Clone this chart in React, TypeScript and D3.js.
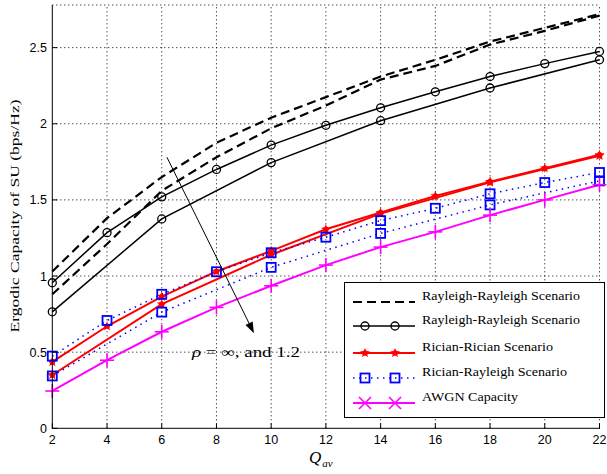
import React from "react";
import * as d3 from "d3";

// ---- data ----
const xAll = [2, 4, 6, 8, 10, 12, 14, 16, 18, 20, 22];
const xSparse = [2, 6, 10, 14, 18, 22];

const rayDashedA = [1.03, 1.38, 1.65, 1.875, 2.04, 2.175, 2.31, 2.42, 2.54, 2.63, 2.72];
const rayDashedB = [0.88, 1.21, 1.56, 1.78, 1.97, 2.12, 2.29, 2.38, 2.52, 2.61, 2.71];
const rayCircleA = [0.956, 1.285, 1.52, 1.7, 1.86, 1.99, 2.105, 2.21, 2.31, 2.395, 2.475];
const rayCircleB = [0.765, 1.375, 1.745, 2.02, 2.235, 2.42];
const ricRicA = [0.436, 0.67, 0.865, 1.03, 1.165, 1.307, 1.417, 1.526, 1.62, 1.708, 1.796];
const ricRicB = [0.35, 0.815, 1.14, 1.41, 1.615, 1.79];
const ricRayA = [0.474, 0.708, 0.88, 1.028, 1.153, 1.255, 1.364, 1.445, 1.54, 1.614, 1.68];
const ricRayB = [0.344, 0.763, 1.057, 1.28, 1.467, 1.625];
const awgn = [0.245, 0.447, 0.634, 0.794, 0.936, 1.072, 1.19, 1.29, 1.4, 1.5, 1.6];

const xTicks = [2, 4, 6, 8, 10, 12, 14, 16, 18, 20, 22];
const yTicks = [0, 0.5, 1, 1.5, 2, 2.5];
const yTickLabels = ["0", "0.5", "1", "1.5", "2", "2.5"];

const legendLabels = [
  "Rayleigh-Rayleigh Scenario",
  "Rayleigh-Rayleigh Scenario",
  "Rician-Rician Scenario",
  "Rician-Rayleigh Scenario",
  "AWGN Capacity",
];
const legendWidths = [158, 158, 131, 145, 96];

// arrow annotation (data coordinates)
const arrowFrom = [6.19, 1.78];
const arrowTo = [9.37, 0.625];

const W = 607;
const H = 474;
const x = d3.scaleLinear().domain([2, 22]).range([52.3, 599.5]);
const y = d3.scaleLinear().domain([0, 2.78]).range([428.3, 5]);

const line = d3
  .line<[number, number]>()
  .x((d) => x(d[0]))
  .y((d) => y(d[1]));

const pts = (xs: number[], ys: number[]) => xs.map((v, i) => [v, ys[i]] as [number, number]);

const starPath = d3.symbol().type(d3.symbolStar).size(32)() as string;

const Circle = ({ cx, cy }: { cx: number; cy: number }) => (
  <circle cx={cx} cy={cy} r={4} fill="none" stroke="#000" strokeWidth={1.3} />
);
const Star = ({ cx, cy }: { cx: number; cy: number }) => (
  <g transform={`translate(${cx},${cy})`}>
    <path d={starPath} fill="#ff0000" />
    <circle r={2.8} fill="#ff0000" />
  </g>
);
const Square = ({ cx, cy }: { cx: number; cy: number }) => (
  <rect x={cx - 4.5} y={cy - 4.5} width={9} height={9} fill="none" stroke="#0000ff" strokeWidth={1.8} />
);
const Plus = ({ cx, cy }: { cx: number; cy: number }) => (
  <g stroke="#ff00ff" strokeWidth={1.6}>
    <line x1={cx - 7} x2={cx + 7} y1={cy} y2={cy} />
    <line x1={cx} x2={cx} y1={cy - 7} y2={cy + 7} />
  </g>
);
const Cross = ({ cx, cy }: { cx: number; cy: number }) => (
  <g stroke="#ff00ff" strokeWidth={1.6}>
    <line x1={cx - 6} x2={cx + 6} y1={cy - 6} y2={cy + 6} />
    <line x1={cx - 6} x2={cx + 6} y1={cy + 6} y2={cy - 6} />
  </g>
);

export default function App() {
  const ax0 = x(2);
  const ax1 = x(22);
  const ay0 = y(0);
  const ay1 = y(2.78);

  const serif = "'Liberation Serif', 'DejaVu Serif', serif";
  const sans = "'Liberation Sans', Arial, sans-serif";

  const legX0 = 353;
  const legX1 = 415;
  const legRows = [302, 326, 353, 378, 403];
  const legMk = [365, 395];

  const ax = x(arrowFrom[0]);
  const ay = y(arrowFrom[1]);
  const bx = x(arrowTo[0]);
  const by = y(arrowTo[1]);
  const ang = Math.atan2(by - ay, bx - ax);
  const hl = 11;
  const hw = 4;
  const head = [
    [bx, by],
    [bx - hl * Math.cos(ang) + hw * Math.sin(ang), by - hl * Math.sin(ang) - hw * Math.cos(ang)],
    [bx - hl * Math.cos(ang) - hw * Math.sin(ang), by - hl * Math.sin(ang) + hw * Math.cos(ang)],
  ];

  return (
    <svg
      width={W}
      height={H}
      style={{ position: "absolute", left: 0, top: 0, background: "#fff" }}
    >
      <rect width={W} height={H} fill="#fff" />
      {/* grid */}
      <g stroke="#000" strokeWidth={1} strokeDasharray="1 3">
        {xTicks.slice(1).map((t) => (
          <line key={"gx" + t} x1={x(t)} x2={x(t)} y1={ay0} y2={ay1} />
        ))}
        {yTicks.slice(1).map((t) => (
          <line key={"gy" + t} x1={ax0} x2={ax1} y1={y(t)} y2={y(t)} />
        ))}
        <line x1={ax0} x2={ax1} y1={ay1} y2={ay1} />
      </g>

      {/* series */}
      <path d={line(pts(xAll, rayDashedA)) || ""} fill="none" stroke="#000" strokeWidth={2.2} strokeDasharray="9 5" />
      <path d={line(pts(xAll, rayDashedB)) || ""} fill="none" stroke="#000" strokeWidth={2.2} strokeDasharray="9 5" />
      <path d={line(pts(xAll, rayCircleA)) || ""} fill="none" stroke="#000" strokeWidth={1.5} />
      <path d={line(pts(xSparse, rayCircleB)) || ""} fill="none" stroke="#000" strokeWidth={1.5} />
      <path d={line(pts(xAll, ricRicA)) || ""} fill="none" stroke="#ff0000" strokeWidth={2} />
      <path d={line(pts(xSparse, ricRicB)) || ""} fill="none" stroke="#ff0000" strokeWidth={2} />
      <path d={line(pts(xAll, ricRayA)) || ""} fill="none" stroke="#0000ff" strokeWidth={1.5} strokeDasharray="1.5 4.5" />
      <path d={line(pts(xSparse, ricRayB)) || ""} fill="none" stroke="#0000ff" strokeWidth={1.5} strokeDasharray="1.5 4.5" />
      <path d={line(pts(xAll, awgn)) || ""} fill="none" stroke="#ff00ff" strokeWidth={2} />

      {/* markers */}
      {pts(xAll, rayCircleA).map((p, i) => <Circle key={"ca" + i} cx={x(p[0])} cy={y(p[1])} />)}
      {pts(xSparse, rayCircleB).map((p, i) => <Circle key={"cb" + i} cx={x(p[0])} cy={y(p[1])} />)}
      {pts(xAll, ricRicA).map((p, i) => <Star key={"ra" + i} cx={x(p[0])} cy={y(p[1])} />)}
      {pts(xSparse, ricRicB).map((p, i) => <Star key={"rb" + i} cx={x(p[0])} cy={y(p[1])} />)}
      {pts(xAll, ricRayA).map((p, i) => <Square key={"sa" + i} cx={x(p[0])} cy={y(p[1])} />)}
      {pts(xSparse, ricRayB).map((p, i) => <Square key={"sb" + i} cx={x(p[0])} cy={y(p[1])} />)}
      {pts(xAll, awgn).map((p, i) => <Plus key={"aw" + i} cx={x(p[0])} cy={y(p[1])} />)}

      {/* axes */}
      <line x1={ax0} x2={ax0} y1={ay1} y2={ay0 + 0.5} stroke="#000" strokeWidth={1} />
      <line x1={ax0} x2={ax1 + 0.5} y1={ay0} y2={ay0} stroke="#000" strokeWidth={1} />
      {xTicks.map((t) => (
        <g key={"xt" + t}>
          <line x1={x(t)} x2={x(t)} y1={ay0} y2={ay0 - 5} stroke="#000" />
          <text x={x(t)} y={444} textAnchor="middle" fontFamily={sans} fontSize={12.5} fill="#000">
            {t}
          </text>
        </g>
      ))}
      {yTicks.map((t, i) => (
        <g key={"yt" + t}>
          <line x1={ax0} x2={ax0 + 5} y1={y(t)} y2={y(t)} stroke="#000" />
          <text x={47} y={y(t) + 4.5} textAnchor="end" fontFamily={sans} fontSize={12.5} fill="#000">
            {yTickLabels[i]}
          </text>
        </g>
      ))}

      {/* axis labels */}
      <text
        transform="translate(19,216) rotate(-90)"
        textAnchor="middle"
        fontFamily={serif}
        fontSize={13}
        fill="#000"
        textLength={233}
        lengthAdjust="spacingAndGlyphs"
      >
        Ergodic Capacity of SU (bps/Hz)
      </text>
      <text x={309} y={463} fontFamily={serif} fontStyle="italic" fontSize={17} fill="#000">
        Q
        <tspan dx={1} dy={4} fontSize={11}>
          av
        </tspan>
      </text>

      {/* arrow annotation */}
      <line x1={ax} y1={ay} x2={bx - 6 * Math.cos(ang)} y2={by - 6 * Math.sin(ang)} stroke="#000" strokeWidth={1} />
      <polygon points={head.map((p) => p.join(",")).join(" ")} fill="#000" />
      <text
        x={192}
        y={357}
        fontFamily={serif}
        fontSize={14}
        fill="#000"
        textLength={108}
        lengthAdjust="spacingAndGlyphs"
      >
        <tspan fontStyle="italic">ρ</tspan> = ∞, and 1.2
      </text>

      {/* legend */}
      <rect x={344.5} y={282.5} width={260} height={135} fill="#fff" stroke="#000" strokeWidth={1} />
      <line x1={legX0} x2={legX1} y1={legRows[0]} y2={legRows[0]} stroke="#000" strokeWidth={2.2} strokeDasharray="9 5" />
      <line x1={legX0} x2={legX1} y1={legRows[1]} y2={legRows[1]} stroke="#000" strokeWidth={1.5} />
      <line x1={legX0} x2={legX1} y1={legRows[2]} y2={legRows[2]} stroke="#ff0000" strokeWidth={2} />
      <line x1={legX0} x2={legX1} y1={legRows[3]} y2={legRows[3]} stroke="#0000ff" strokeWidth={1.5} strokeDasharray="1.5 4.5" />
      <line x1={legX0} x2={legX1} y1={legRows[4]} y2={legRows[4]} stroke="#ff00ff" strokeWidth={2} />
      {legMk.map((m) => (
        <g key={"lm" + m}>
          <Circle cx={m} cy={legRows[1]} />
          <Star cx={m} cy={legRows[2]} />
          <Square cx={m} cy={legRows[3]} />
          <Cross cx={m} cy={legRows[4]} />
        </g>
      ))}
      {legendLabels.map((l, i) => (
        <text
          key={"ll" + i}
          x={422}
          y={legRows[i] - 2}
          fontFamily={serif}
          fontSize={12.5}
          fill="#000"
          textLength={legendWidths[i]}
          lengthAdjust="spacingAndGlyphs"
        >
          {l}
        </text>
      ))}
    </svg>
  );
}
